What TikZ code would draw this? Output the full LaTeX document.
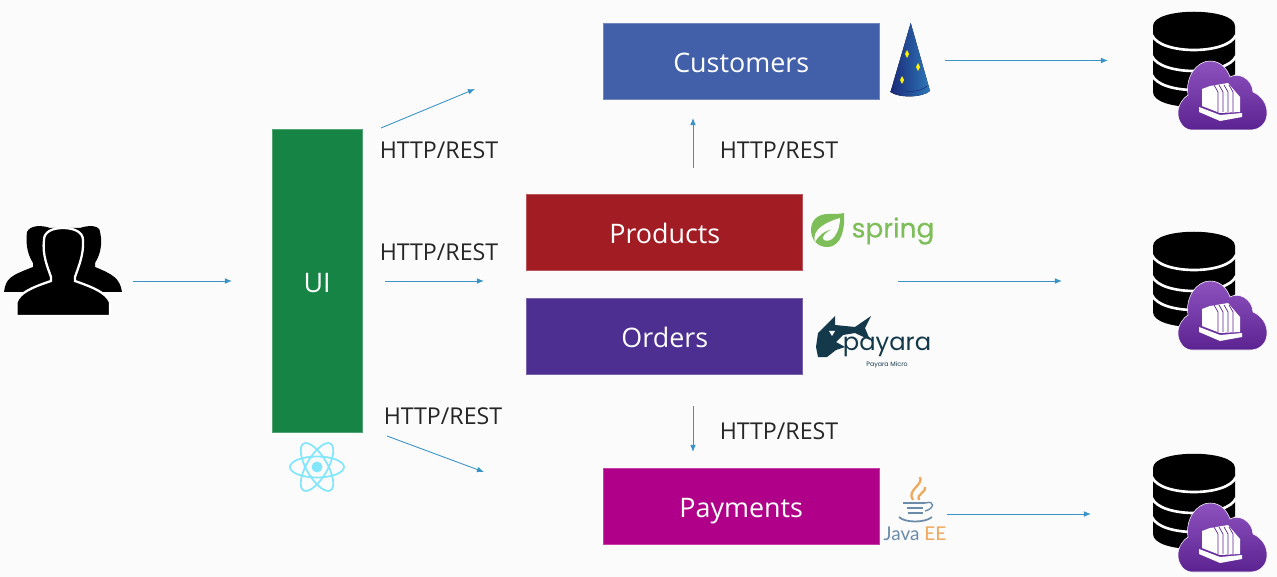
\documentclass[tikz,border=0pt]{standalone}
\usepackage{fontspec}
\setmainfont{Open Sans}
\newfontfamily\logofont{Poppins}
\newfontfamily\springfont[FakeBold=0.4]{Poppins}
\newfontfamily\javafont{Lato}
\usetikzlibrary{arrows.meta}
\definecolor{pagebg}{HTML}{FBFBFB}
\definecolor{custcol}{HTML}{425FA9}
\definecolor{prodcol}{HTML}{A21C24}
\definecolor{ordcol}{HTML}{4D2E91}
\definecolor{paycol}{HTML}{B0008A}
\definecolor{uicol}{HTML}{158444}
\definecolor{flowcol}{HTML}{3A93C6}
\definecolor{labcol}{HTML}{262626}
\definecolor{springcol}{HTML}{7DBE58}
\definecolor{payaracol}{HTML}{14394A}
\definecolor{reactcol}{HTML}{84E6FA}
\definecolor{javablue}{HTML}{6A8CA8}
\definecolor{javaorange}{HTML}{EFA85C}
\definecolor{cloudtop}{HTML}{8E52BE}
\definecolor{cloudlow}{HTML}{5B2391}
\definecolor{hatdark}{HTML}{1B2A7A}
\definecolor{hatlight}{HTML}{2E78B8}

\begin{document}
\begin{tikzpicture}[
        x=0.02cm,y=-0.02cm,
        svc/.style={rectangle,fill=#1,draw=#1!75!white,line width=0.4pt,inner sep=0pt,text=white,text height=15.6pt,text depth=3pt,font=\fontsize{15.3}{18}\selectfont},
        lab/.style={text=labcol,inner sep=0pt,font=\fontsize{13.2}{16}\selectfont},
        flow/.style={draw=flowcol,line width=0.5pt,-{Latex[length=4pt,width=3.2pt]}},
        dbcloud/.pic={
          \fill[black] (13,26) .. controls (13,7) and (95,7) .. (95,26) -- (95,92) .. controls (95,112) and (13,112) .. (13,92) -- cycle;
          \foreach \ybase in {35,56,75}
            \draw[white,line width=1.5pt] (12,\ybase) .. controls (20,\ybase+20) and (88,\ybase+20) .. (96,\ybase);
          \draw[white,line width=0.3pt,top color=cloudtop,bottom color=cloudlow]
            (52,130) .. controls (44,130) and (38,122) .. (38,113) .. controls (38,105) and (43,98) .. (48,95) .. controls (45,78) and (56,61) .. (70,61) .. controls (80,61) and (87,68) .. (90,77) .. controls (98,72) and (112,78) .. (113,92) .. controls (122,96) and (127,104) .. (127,113) .. controls (127,123) and (120,130) .. (110,130) -- cycle;
          \fill[white] (59,107) -- (59,112) -- (80,121) -- (102,117) -- (102,113) -- (80,115) -- cycle;
          \fill[white] (62,89) -- (70,86) -- (88,83) -- (100,97) -- (100,112) -- (80,113) -- (62,106) -- cycle;
          \foreach \xgap in {74,79,84,89}
            \draw[cloudlow,line width=0.4pt] (\xgap,85) -- (\xgap+4,92) -- (\xgap+4,112);
        },
        usergroup/.pic={
          \fill[black] (4,292) .. controls (6,278) and (10,276) .. (33,267) -- (33,263) .. controls (26,252) and (26,240) .. (27,232) .. controls (30,225) and (42,225) .. (50,228) -- (80,228) .. controls (88,225) and (100,225) .. (100,232) .. controls (102,240) and (102,252) .. (95,263) -- (95,267) .. controls (112,274) and (120,278) .. (122,292) -- cycle;
          \draw[white,fill=black,line width=1.3pt] (16.5,316) -- (16.5,302) .. controls (20,293) and (30,288) .. (51,281) -- (51,277) .. controls (48,268) and (42,255) .. (44,240) .. controls (44,232) and (52,228) .. (63,228) .. controls (74,228) and (83,232) .. (83,240) .. controls (84,255) and (78,268) .. (75,277) -- (75,281) .. controls (95,288) and (106,293) .. (110,302) -- (110,316) -- cycle;
        },
        wizardhat/.pic={
          \fill[left color=hatdark,right color=hatlight] (910.7,23) -- (930,91) .. controls (922,98) and (898,98) .. (890.5,92) -- cycle;
          \draw[hatdark,line width=0.3pt] (905,91) .. controls (912,92) and (922,91) .. (927,86);
          \foreach \xs/\ys in {907/54,918/67,902/80}
            \fill[yellow] (\xs,\ys-4) -- (\xs+2,\ys) -- (\xs,\ys+4) -- (\xs-2,\ys) -- cycle;
        },
        reactatom/.pic={
          \fill[reactcol] (0,0) circle (5.5);
          \foreach \rot in {0,60,120}
            \draw[reactcol,line width=1pt,rotate=\rot] (0,0) ellipse [x radius=27, y radius=10.5];
        },
        springleaf/.pic={
          \fill[springcol] (811,230) .. controls (811,220) and (818,214) .. (828,214) .. controls (835,214) and (840,214) .. (844,213) .. controls (845,225) and (843,247) .. (827,247) .. controls (818,247) and (811,240) .. (811,230) -- cycle;
          \fill[pagebg] (815,242) .. controls (811,230) and (826,222) .. (840,218) .. controls (840,232) and (832,244) .. (824,240) .. controls (820,238) and (826,232) .. (832,229) .. controls (824,231) and (818,236) .. (815,242) -- cycle;
        },
        payarafish/.pic={
          \fill[payaracol] (816,347) -- (818,333) -- (835,316) -- (835,325) -- (855,327) -- (871,316) -- (865,328) -- (870,340) -- (855,333) -- (843,335) -- (836,342) -- (845,347) -- (836,350) -- (827,357) -- (818,357) -- cycle;
          \fill[pagebg] (829,331) -- (835,331) -- (832,336) -- cycle;
        },
        javacup/.pic={
          \draw[javaorange,line width=1.3pt] (920,477) .. controls (924,485) and (906,490) .. (913,500);
          \draw[javaorange,line width=1.3pt] (925,487) .. controls (927,492) and (916,494) .. (919,500);
          \draw[javablue,line width=1pt] (903,503) -- (925,503);
          \draw[javablue,line width=0.8pt] (925,503) .. controls (936,500) and (934,509) .. (925,511);
          \draw[javablue,line width=1pt] (907,508) -- (923,508);
          \draw[javablue,line width=1pt] (908,513) -- (923,513);
          \draw[javablue,line width=1pt] (899,517) .. controls (905,523) and (925,523) .. (932,517);
        }
      ]
      \fill[pagebg] (0,0) rectangle (1277,577);

      \pic at (0,0) {usergroup};
      \pic at (1140,0) {dbcloud};
      \pic at (1140,220) {dbcloud};
      \pic at (1140,442) {dbcloud};
      \pic at (0,0) {wizardhat};
      \pic at (317,467) {reactatom};
      \pic at (0,0) {springleaf};
      \pic at (0,0) {payarafish};
      \pic at (0,0) {javacup};

      \node[svc=uicol,minimum width=1.8cm,minimum height=6.06cm] (ui) at (317.2,281) {UI};
      \node[svc=custcol,minimum width=5.52cm,minimum height=1.53cm] (customers) at (741.2,61.5) {Customers};
      \node[svc=prodcol,minimum width=5.52cm,minimum height=1.53cm] (products) at (664.8,232.5) {Products};
      \node[svc=ordcol,minimum width=5.52cm,minimum height=1.53cm] (orders) at (664.8,336.3) {Orders};
      \node[svc=paycol,minimum width=5.52cm,minimum height=1.53cm] (payments) at (741.2,506.5) {Payments};

      \node[lab] (labuitop) at (439,150) {HTTP/REST};
      \node[lab] (labuimid) at (439,252) {HTTP/REST};
      \node[lab] (labuilow) at (443,416) {HTTP/REST};
      \node[lab] (labcust) at (779,150) {HTTP/REST};
      \node[lab] (labpay) at (779,431) {HTTP/REST};

      \node[text=springcol,inner sep=0pt,font=\springfont\fontsize{15}{18}\selectfont] (springtxt) at (893,231) {spring};
      \node[text=payaracol,inner sep=0pt,font=\logofont\fontsize{13.8}{16}\selectfont] (payaratxt) at (887,347) {payara};
      \node[text=payaracol,inner sep=0pt,font=\logofont\fontsize{3.6}{5}\selectfont] (payaramicro) at (887,365) {Payara Micro};
      \node[inner sep=0pt,font=\javafont\fontsize{10.8}{13}\selectfont] (javatxt) at (915,534) {\textcolor{javablue}{Java} \textcolor{javaorange}{EE}};

      \coordinate (userout) at (133,281);
      \coordinate (uiin) at (232,281);
      \coordinate (uitopout) at (381,128);
      \coordinate (uitopend) at (475,89);
      \coordinate (uimidout) at (385,281);
      \coordinate (uimidend) at (484,281);
      \coordinate (uilowout) at (387,436);
      \coordinate (uilowend) at (484,472);
      \coordinate (prodout) at (693,168);
      \coordinate (custin) at (693,118);
      \coordinate (ordout) at (693,406);
      \coordinate (payin) at (693,452);
      \coordinate (custout) at (945,60.5);
      \coordinate (custdb) at (1108,60.5);
      \coordinate (midout) at (898,281);
      \coordinate (middb) at (1062,281);
      \coordinate (payout) at (947,514);
      \coordinate (paydb) at (1091,514);

      \draw[flow] (userout) -- (uiin);
      \draw[flow] (uitopout) -- (uitopend);
      \draw[flow] (uimidout) -- (uimidend);
      \draw[flow] (uilowout) -- (uilowend);
      \draw[flow] (prodout) -- (custin);
      \draw[flow] (ordout) -- (payin);
      \draw[flow] (custout) -- (custdb);
      \draw[flow] (midout) -- (middb);
      \draw[flow] (payout) -- (paydb);
    \end{tikzpicture}
\end{document}
